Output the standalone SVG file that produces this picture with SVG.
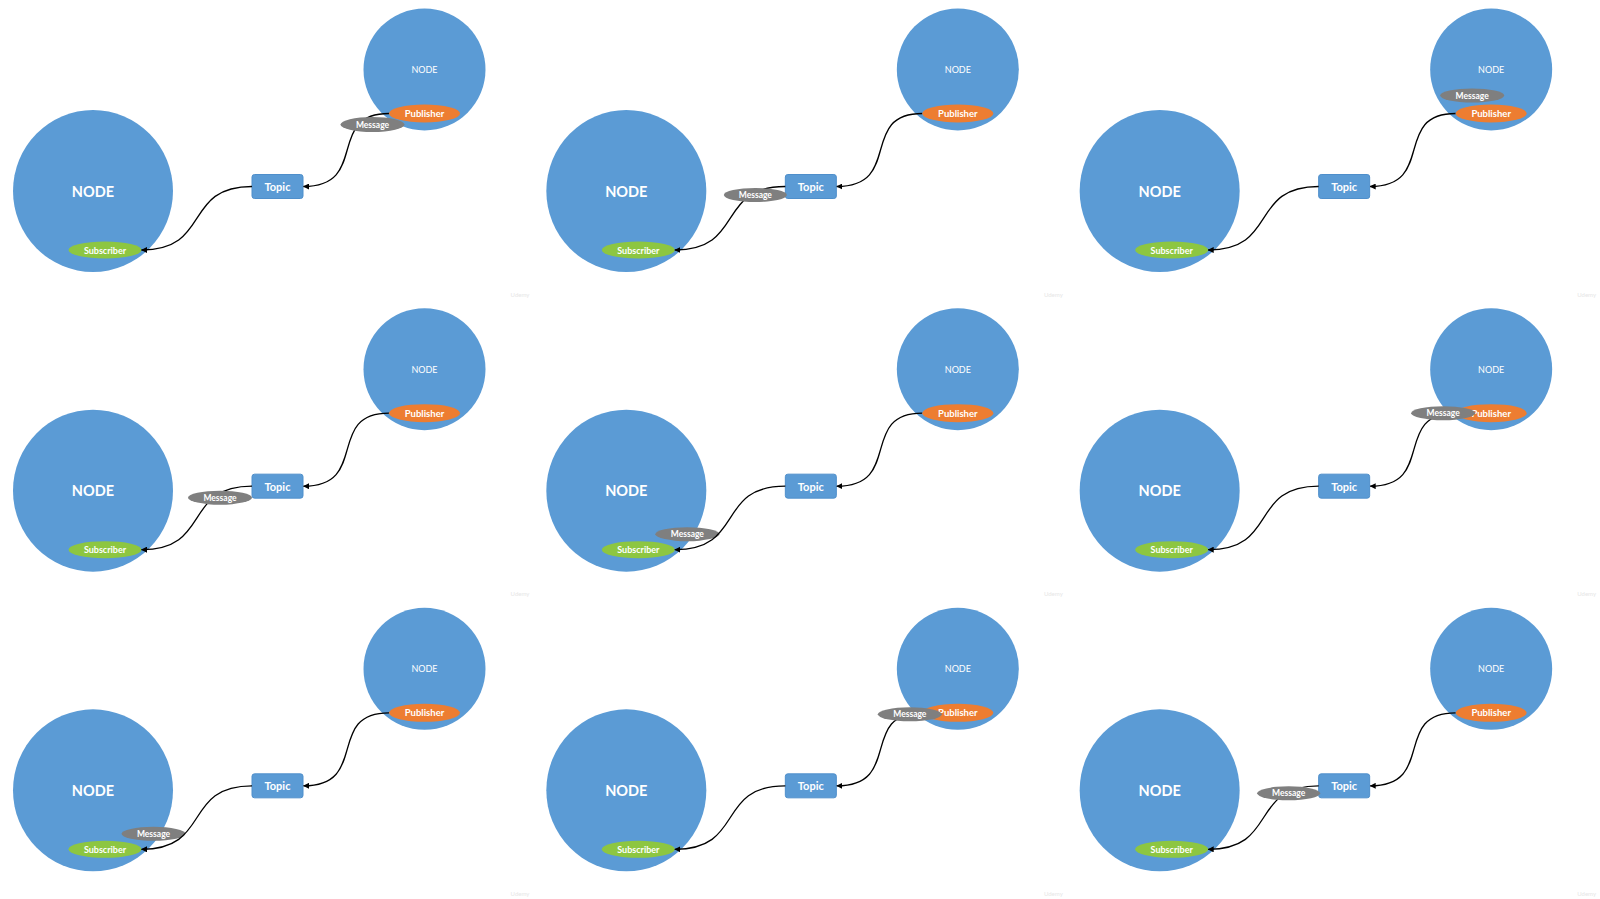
<svg xmlns="http://www.w3.org/2000/svg" width="1600" height="899" viewBox="0 0 1600 899">
<style>
.bg{fill:#ffffff}
.node{fill:#5B9BD5}
.pub{fill:#ED7D31}
.sub{fill:#8DC641}
.msg{fill:#7F7F7F}
.topic{fill:#5B9BD5;stroke:#4F8FCB;stroke-width:1}
.conn{fill:none;stroke:#000000;stroke-width:1.3}
text{font-family:Lato,"Open Sans","Liberation Sans",sans-serif;fill:#ffffff;text-anchor:middle;dominant-baseline:central}
.tbig{font-size:14.5px;font-weight:bold}
.tsmall{font-size:9px}
.tpub{font-size:9.5px;font-weight:bold}
.ttopic{font-size:11px;font-weight:bold}
.tsub{font-size:9px;font-weight:bold}
.tmsg{font-size:8.5px;font-weight:bold}
.wm{font-size:6px;fill:#e6e6e6}
</style>
<defs>
<marker id="arrow" viewBox="0 0 6 6" refX="5.5" refY="3" markerWidth="6" markerHeight="6" markerUnits="userSpaceOnUse" orient="auto">
<path d="M0,0 L6,3 L0,6 z" fill="#000000"/>
</marker>
</defs>
<rect class="bg" x="0" y="0" width="1600" height="899"/>

<!-- Panel 1 -->
<g id="panel1" transform="translate(0,0)">
<g id="p1-node-sub"><ellipse class="node" cx="93" cy="191" rx="80" ry="81"/><text class="tbig" x="93" y="191">NODE</text></g>
<g id="p1-node-pub"><circle class="node" cx="424.5" cy="69.5" r="61"/><text class="tsmall" x="424.5" y="69.5">NODE</text></g>
<g id="p1-topic"><rect class="topic" x="252" y="174.5" width="51" height="24" rx="2.5"/><text class="ttopic" x="277.5" y="186.5">Topic</text></g>
<g id="p1-subscriber"><ellipse class="sub" cx="105" cy="250" rx="36.5" ry="8.5"/><text class="tsub" x="105" y="250">Subscriber</text></g>
<g id="p1-connectors"><path class="conn" d="M389,113.5 C325,113.5 370,186.5 303.5,186.5" marker-end="url(#arrow)"/><path class="conn" d="M252,186.5 C182,186.5 212,250 141.5,250" marker-end="url(#arrow)"/></g>
<g id="p1-message"><ellipse class="msg" cx="372.5" cy="124.5" rx="32" ry="7.5"/><text class="tmsg" x="372.5" y="124.5">Message</text></g>
<g id="p1-publisher"><ellipse class="pub" cx="424.5" cy="113.5" rx="35.5" ry="9"/><text class="tpub" x="424.5" y="113.5">Publisher</text></g>
<text class="wm" x="520" y="294">Udemy</text>
</g>

<!-- Panel 2 -->
<g id="panel2" transform="translate(533.33,0)">
<g id="p2-node-sub"><ellipse class="node" cx="93" cy="191" rx="80" ry="81"/><text class="tbig" x="93" y="191">NODE</text></g>
<g id="p2-node-pub"><circle class="node" cx="424.5" cy="69.5" r="61"/><text class="tsmall" x="424.5" y="69.5">NODE</text></g>
<g id="p2-topic"><rect class="topic" x="252" y="174.5" width="51" height="24" rx="2.5"/><text class="ttopic" x="277.5" y="186.5">Topic</text></g>
<g id="p2-subscriber"><ellipse class="sub" cx="105" cy="250" rx="36.5" ry="8.5"/><text class="tsub" x="105" y="250">Subscriber</text></g>
<g id="p2-connectors"><path class="conn" d="M389,113.5 C325,113.5 370,186.5 303.5,186.5" marker-end="url(#arrow)"/><path class="conn" d="M252,186.5 C182,186.5 212,250 141.5,250" marker-end="url(#arrow)"/></g>
<g id="p2-publisher"><ellipse class="pub" cx="424.5" cy="113.5" rx="35.5" ry="9"/><text class="tpub" x="424.5" y="113.5">Publisher</text></g>
<g id="p2-message"><ellipse class="msg" cx="222" cy="195" rx="31.5" ry="7"/><text class="tmsg" x="222" y="195">Message</text></g>
<text class="wm" x="520" y="294">Udemy</text>
</g>

<!-- Panel 3 -->
<g id="panel3" transform="translate(1066.67,0)">
<g id="p3-node-sub"><ellipse class="node" cx="93" cy="191" rx="80" ry="81"/><text class="tbig" x="93" y="191">NODE</text></g>
<g id="p3-node-pub"><circle class="node" cx="424.5" cy="69.5" r="61"/><text class="tsmall" x="424.5" y="69.5">NODE</text></g>
<g id="p3-topic"><rect class="topic" x="252" y="174.5" width="51" height="24" rx="2.5"/><text class="ttopic" x="277.5" y="186.5">Topic</text></g>
<g id="p3-subscriber"><ellipse class="sub" cx="105" cy="250" rx="36.5" ry="8.5"/><text class="tsub" x="105" y="250">Subscriber</text></g>
<g id="p3-connectors"><path class="conn" d="M389,113.5 C325,113.5 370,186.5 303.5,186.5" marker-end="url(#arrow)"/><path class="conn" d="M252,186.5 C182,186.5 212,250 141.5,250" marker-end="url(#arrow)"/></g>
<g id="p3-publisher"><ellipse class="pub" cx="424.5" cy="113.5" rx="35.5" ry="9"/><text class="tpub" x="424.5" y="113.5">Publisher</text></g>
<g id="p3-message"><ellipse class="msg" cx="405.5" cy="95.5" rx="32" ry="7"/><text class="tmsg" x="405.5" y="95.5">Message</text></g>
<text class="wm" x="520" y="294">Udemy</text>
</g>

<!-- Panel 4 -->
<g id="panel4" transform="translate(0,299.67)">
<g id="p4-node-sub"><ellipse class="node" cx="93" cy="191" rx="80" ry="81"/><text class="tbig" x="93" y="191">NODE</text></g>
<g id="p4-node-pub"><circle class="node" cx="424.5" cy="69.5" r="61"/><text class="tsmall" x="424.5" y="69.5">NODE</text></g>
<g id="p4-topic"><rect class="topic" x="252" y="174.5" width="51" height="24" rx="2.5"/><text class="ttopic" x="277.5" y="186.5">Topic</text></g>
<g id="p4-subscriber"><ellipse class="sub" cx="105" cy="250" rx="36.5" ry="8.5"/><text class="tsub" x="105" y="250">Subscriber</text></g>
<g id="p4-connectors"><path class="conn" d="M389,113.5 C325,113.5 370,186.5 303.5,186.5" marker-end="url(#arrow)"/><path class="conn" d="M252,186.5 C182,186.5 212,250 141.5,250" marker-end="url(#arrow)"/></g>
<g id="p4-publisher"><ellipse class="pub" cx="424.5" cy="113.5" rx="35.5" ry="9"/><text class="tpub" x="424.5" y="113.5">Publisher</text></g>
<g id="p4-message"><ellipse class="msg" cx="220" cy="198" rx="32" ry="7"/><text class="tmsg" x="220" y="198">Message</text></g>
<text class="wm" x="520" y="294">Udemy</text>
</g>

<!-- Panel 5 -->
<g id="panel5" transform="translate(533.33,299.67)">
<g id="p5-node-sub"><ellipse class="node" cx="93" cy="191" rx="80" ry="81"/><text class="tbig" x="93" y="191">NODE</text></g>
<g id="p5-node-pub"><circle class="node" cx="424.5" cy="69.5" r="61"/><text class="tsmall" x="424.5" y="69.5">NODE</text></g>
<g id="p5-topic"><rect class="topic" x="252" y="174.5" width="51" height="24" rx="2.5"/><text class="ttopic" x="277.5" y="186.5">Topic</text></g>
<g id="p5-subscriber"><ellipse class="sub" cx="105" cy="250" rx="36.5" ry="8.5"/><text class="tsub" x="105" y="250">Subscriber</text></g>
<g id="p5-message"><ellipse class="msg" cx="154" cy="234.5" rx="32" ry="7"/><text class="tmsg" x="154" y="234.5">Message</text></g>
<g id="p5-connectors"><path class="conn" d="M389,113.5 C325,113.5 370,186.5 303.5,186.5" marker-end="url(#arrow)"/><path class="conn" d="M252,186.5 C182,186.5 212,250 141.5,250" marker-end="url(#arrow)"/></g>
<g id="p5-publisher"><ellipse class="pub" cx="424.5" cy="113.5" rx="35.5" ry="9"/><text class="tpub" x="424.5" y="113.5">Publisher</text></g>
<text class="wm" x="520" y="294">Udemy</text>
</g>

<!-- Panel 6 -->
<g id="panel6" transform="translate(1066.67,299.67)">
<g id="p6-node-sub"><ellipse class="node" cx="93" cy="191" rx="80" ry="81"/><text class="tbig" x="93" y="191">NODE</text></g>
<g id="p6-node-pub"><circle class="node" cx="424.5" cy="69.5" r="61"/><text class="tsmall" x="424.5" y="69.5">NODE</text></g>
<g id="p6-topic"><rect class="topic" x="252" y="174.5" width="51" height="24" rx="2.5"/><text class="ttopic" x="277.5" y="186.5">Topic</text></g>
<g id="p6-subscriber"><ellipse class="sub" cx="105" cy="250" rx="36.5" ry="8.5"/><text class="tsub" x="105" y="250">Subscriber</text></g>
<g id="p6-connectors"><path class="conn" d="M389,113.5 C325,113.5 370,186.5 303.5,186.5" marker-end="url(#arrow)"/><path class="conn" d="M252,186.5 C182,186.5 212,250 141.5,250" marker-end="url(#arrow)"/></g>
<g id="p6-publisher"><ellipse class="pub" cx="424.5" cy="113.5" rx="35.5" ry="9"/><text class="tpub" x="424.5" y="113.5">Publisher</text></g>
<g id="p6-message"><ellipse class="msg" cx="376.5" cy="113.5" rx="32" ry="7"/><text class="tmsg" x="376.5" y="113.5">Message</text></g>
<text class="wm" x="520" y="294">Udemy</text>
</g>

<!-- Panel 7 -->
<g id="panel7" transform="translate(0,599.33)">
<g id="p7-node-sub"><ellipse class="node" cx="93" cy="191" rx="80" ry="81"/><text class="tbig" x="93" y="191">NODE</text></g>
<g id="p7-node-pub"><circle class="node" cx="424.5" cy="69.5" r="61"/><text class="tsmall" x="424.5" y="69.5">NODE</text></g>
<g id="p7-topic"><rect class="topic" x="252" y="174.5" width="51" height="24" rx="2.5"/><text class="ttopic" x="277.5" y="186.5">Topic</text></g>
<g id="p7-subscriber"><ellipse class="sub" cx="105" cy="250" rx="36.5" ry="8.5"/><text class="tsub" x="105" y="250">Subscriber</text></g>
<g id="p7-message"><ellipse class="msg" cx="153.5" cy="234.5" rx="32" ry="7"/><text class="tmsg" x="153.5" y="234.5">Message</text></g>
<g id="p7-connectors"><path class="conn" d="M389,113.5 C325,113.5 370,186.5 303.5,186.5" marker-end="url(#arrow)"/><path class="conn" d="M252,186.5 C182,186.5 212,250 141.5,250" marker-end="url(#arrow)"/></g>
<g id="p7-publisher"><ellipse class="pub" cx="424.5" cy="113.5" rx="35.5" ry="9"/><text class="tpub" x="424.5" y="113.5">Publisher</text></g>
<text class="wm" x="520" y="294">Udemy</text>
</g>

<!-- Panel 8 -->
<g id="panel8" transform="translate(533.33,599.33)">
<g id="p8-node-sub"><ellipse class="node" cx="93" cy="191" rx="80" ry="81"/><text class="tbig" x="93" y="191">NODE</text></g>
<g id="p8-node-pub"><circle class="node" cx="424.5" cy="69.5" r="61"/><text class="tsmall" x="424.5" y="69.5">NODE</text></g>
<g id="p8-topic"><rect class="topic" x="252" y="174.5" width="51" height="24" rx="2.5"/><text class="ttopic" x="277.5" y="186.5">Topic</text></g>
<g id="p8-subscriber"><ellipse class="sub" cx="105" cy="250" rx="36.5" ry="8.5"/><text class="tsub" x="105" y="250">Subscriber</text></g>
<g id="p8-connectors"><path class="conn" d="M389,113.5 C325,113.5 370,186.5 303.5,186.5" marker-end="url(#arrow)"/><path class="conn" d="M252,186.5 C182,186.5 212,250 141.5,250" marker-end="url(#arrow)"/></g>
<g id="p8-publisher"><ellipse class="pub" cx="424.5" cy="113.5" rx="35.5" ry="9"/><text class="tpub" x="424.5" y="113.5">Publisher</text></g>
<g id="p8-message"><ellipse class="msg" cx="376.5" cy="115" rx="32" ry="7"/><text class="tmsg" x="376.5" y="115">Message</text></g>
<text class="wm" x="520" y="294">Udemy</text>
</g>

<!-- Panel 9 -->
<g id="panel9" transform="translate(1066.67,599.33)">
<g id="p9-node-sub"><ellipse class="node" cx="93" cy="191" rx="80" ry="81"/><text class="tbig" x="93" y="191">NODE</text></g>
<g id="p9-node-pub"><circle class="node" cx="424.5" cy="69.5" r="61"/><text class="tsmall" x="424.5" y="69.5">NODE</text></g>
<g id="p9-topic"><rect class="topic" x="252" y="174.5" width="51" height="24" rx="2.5"/><text class="ttopic" x="277.5" y="186.5">Topic</text></g>
<g id="p9-subscriber"><ellipse class="sub" cx="105" cy="250" rx="36.5" ry="8.5"/><text class="tsub" x="105" y="250">Subscriber</text></g>
<g id="p9-connectors"><path class="conn" d="M389,113.5 C325,113.5 370,186.5 303.5,186.5" marker-end="url(#arrow)"/><path class="conn" d="M252,186.5 C182,186.5 212,250 141.5,250" marker-end="url(#arrow)"/></g>
<g id="p9-publisher"><ellipse class="pub" cx="424.5" cy="113.5" rx="35.5" ry="9"/><text class="tpub" x="424.5" y="113.5">Publisher</text></g>
<g id="p9-message"><ellipse class="msg" cx="222" cy="194" rx="31.5" ry="7"/><text class="tmsg" x="222" y="194">Message</text></g>
<text class="wm" x="520" y="294">Udemy</text>
</g>
</svg>
